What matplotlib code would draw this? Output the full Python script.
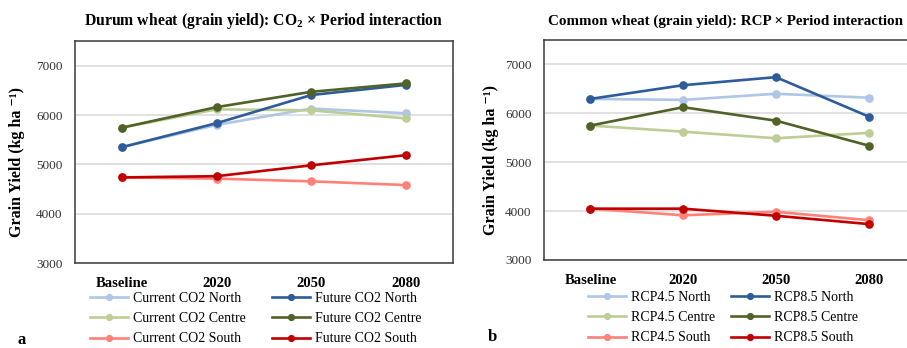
import numpy as np
import matplotlib.pyplot as plt

plt.rcParams['font.family'] = ['Liberation Serif', 'DejaVu Serif']
plt.rcParams['mathtext.fontset'] = 'custom'
plt.rcParams['mathtext.rm'] = 'Liberation Serif'
plt.rcParams['mathtext.bf'] = 'Liberation Serif:bold'

#Data
periods = ["Baseline", "2020", "2050", "2080"]

durum_labels = ["Current CO2 North", "Current CO2 Centre", "Current CO2 South",
                "Future CO2 North", "Future CO2 Centre", "Future CO2 South"]
durum_current_north = [5350, 5800, 6130, 6035]
durum_current_centre = [5745, 6115, 6095, 5930]
durum_current_south = [4735, 4710, 4655, 4580]
durum_future_north = [5350, 5835, 6405, 6610]
durum_future_centre = [5745, 6160, 6470, 6640]
durum_future_south = [4735, 4760, 4980, 5185]

common_labels = ["RCP4.5 North", "RCP4.5 Centre", "RCP4.5 South",
                 "RCP8.5 North", "RCP8.5 Centre", "RCP8.5 South"]
common_rcp45_north = [6295, 6275, 6400, 6320]
common_rcp45_centre = [5750, 5625, 5490, 5600]
common_rcp45_south = [4050, 3915, 3985, 3815]
common_rcp85_north = [6295, 6575, 6740, 5935]
common_rcp85_centre = [5750, 6125, 5850, 5340]
common_rcp85_south = [4050, 4050, 3905, 3735]

#light / dark colours for North, Centre, South
colors = ["#AFC6E6", "#BCCE96", "#FF8178", "#2E5C9A", "#4F6228", "#C00000"]

W, H = 907, 348
fig = plt.figure(figsize=(W / 100, H / 100), dpi=100)


def px_axes(x0, y0, x1, y1):
    return fig.add_axes([x0 / W, 1 - y1 / H, (x1 - x0) / W, (y1 - y0) / H])


def draw_panel(ax, series, labels, ylab_x, leg_xy, colspace):
    x = np.arange(len(periods))
    for vals, lab, col in zip(series, labels, colors):
        ax.plot(x, vals, color=col, lw=1.9, marker='o', ms=5.2, label=lab)
    ax.set_xlim(-0.5, 3.5)
    ax.set_ylim(3000, 7500)
    ax.set_yticks([3000, 4000, 5000, 6000, 7000])
    ax.set_xticks(x)
    ax.set_xticklabels(periods, fontsize=10.5, fontweight='bold')
    ax.tick_params(axis='both', length=0)
    ax.tick_params(axis='y', labelsize=9.5, pad=9, colors='#333333')
    ax.tick_params(axis='x', pad=10)
    ax.grid(axis='y', color='#D9D9D9', lw=1.1)
    ax.set_axisbelow(True)
    for s in ax.spines.values():
        s.set_color('#3A3A3A')
        s.set_linewidth(1.1)
    ax.set_ylabel('Grain Yield (kg ha ⁻¹)', fontsize=11.5, fontweight='bold')
    ax.yaxis.set_label_coords(ylab_x, 0.455)
    ax.legend(loc='upper left', bbox_to_anchor=(leg_xy[0] / W, 1 - leg_xy[1] / H),
              bbox_transform=fig.transFigure, ncol=2, frameon=False, fontsize=10,
              borderpad=0, borderaxespad=0, handlelength=2.75, handletextpad=0.35,
              labelspacing=0.52, columnspacing=colspace, markerscale=0.8)


ax1 = px_axes(75, 41, 453, 263)
draw_panel(ax1,
           [durum_current_north, durum_current_centre, durum_current_south,
            durum_future_north, durum_future_centre, durum_future_south],
           durum_labels, -0.132, (90, 292), 1.9)

ax2 = px_axes(544, 40, 915, 260)
draw_panel(ax2,
           [common_rcp45_north, common_rcp45_centre, common_rcp45_south,
            common_rcp85_north, common_rcp85_centre, common_rcp85_south],
           common_labels, -0.121, (588, 291), 1.15)

fig.text(264 / W, 1 - 21 / H, r'Durum wheat (grain yield): CO$_\mathbf{2}$ × Period interaction',
         ha='center', va='center', fontsize=11.3, fontweight='bold')
fig.text(725 / W, 1 - 21 / H, 'Common wheat (grain yield): RCP × Period interaction',
         ha='center', va='center', fontsize=10.8, fontweight='bold')
fig.text(22 / W, 1 - 340 / H, 'a', ha='center', va='center', fontsize=12, fontweight='bold')
fig.text(492 / W, 1 - 337 / H, 'b', ha='center', va='center', fontsize=12, fontweight='bold')

fig.savefig('out.png', dpi=100)
